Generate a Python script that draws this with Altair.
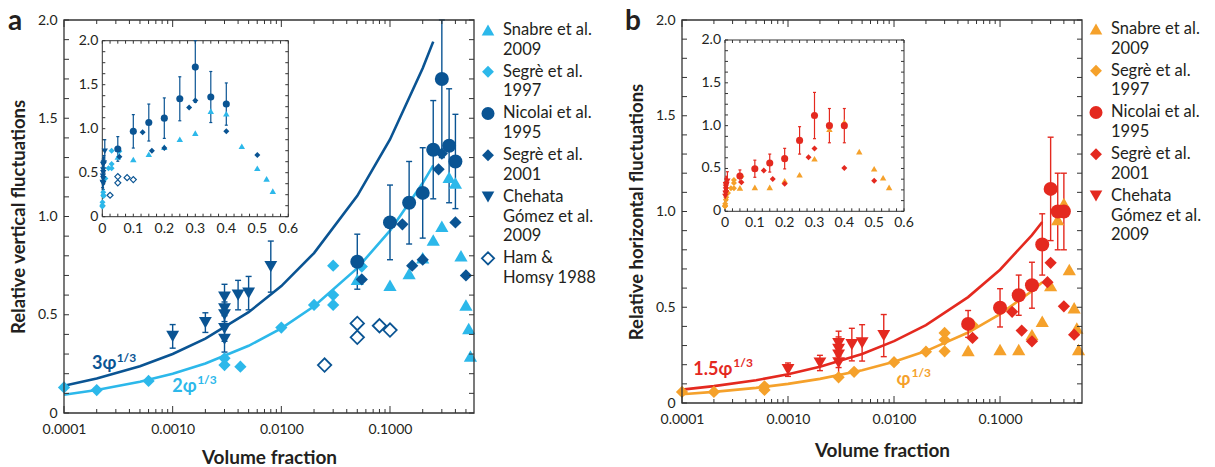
import altair as alt
import pandas as pd

# ---------------- values ----------------
# Snabre et al. 2009 (triangles)
snabre_x = [0.05, 0.10, 0.15, 0.20, 0.25, 0.30, 0.35, 0.40, 0.45, 0.50, 0.53, 0.55]
snabre_va = [0.68, 0.65, 0.71, 0.79, 0.88, 0.95, 1.20, 1.17, 0.80, 0.55, 0.43, 0.29]
snabre_vb = [0.274, 0.279, 0.279, 0.357, 0.427, 0.613, 0.958, 1.042, 0.697, 0.497, 0.392, 0.279]

# Segrè et al. 1997 (light diamonds)
segre97_xa = [0.0001, 0.0002, 0.0006, 0.003, 0.003, 0.0042, 0.01, 0.02, 0.03, 0.03, 0.03, 0.055]
segre97_va = [0.13, 0.117, 0.163, 0.278, 0.244, 0.236, 0.435, 0.55, 0.75, 0.60, 0.55, 0.745]
segre97_xb = [0.0001, 0.0002, 0.0006, 0.0006, 0.003, 0.0042, 0.01, 0.02, 0.03, 0.03, 0.03, 0.055]
segre97_vb = [0.058, 0.058, 0.087, 0.068, 0.134, 0.163, 0.213, 0.268, 0.366, 0.33, 0.27, 0.407]

# Nicolai et al. 1995 (circles with error bars)
nicolai_x = [0.05, 0.10, 0.15, 0.20, 0.25, 0.30, 0.35, 0.40]
nicolai_va = [0.77, 0.97, 1.07, 1.12, 1.34, 1.70, 1.36, 1.28]
nicolai_va_err = [0.14, 0.19, 0.21, 0.23, 0.25, 0.40, 0.29, 0.24]
nicolai_vb = [0.413, 0.497, 0.563, 0.615, 0.828, 1.118, 1.00, 1.00]
nicolai_vb_err = [0.07, 0.10, 0.105, 0.12, 0.16, 0.27, 0.20, 0.20]

# Segrè et al. 2001 (dark diamonds)
segre01_x = [0.055, 0.13, 0.16, 0.20, 0.28, 0.30, 0.40, 0.50]
segre01_va = [0.68, 0.96, 0.75, 0.78, 1.24, 1.32, 0.97, 0.70]
segre01_vb = [0.34, 0.476, 0.378, 0.322, 0.631, 0.732, 0.505, 0.357]

# Chehata Gómez et al. 2009 (down triangles with error bars)
chehata_xa = [0.001, 0.002, 0.003, 0.003, 0.003, 0.003, 0.003, 0.004, 0.005, 0.008]
chehata_va = [0.39, 0.46, 0.59, 0.53, 0.50, 0.43, 0.375, 0.60, 0.61, 0.745]
chehata_va_err = [0.06, 0.05, 0.065, 0.065, 0.065, 0.065, 0.065, 0.075, 0.085, 0.13]
chehata_xb = [0.001, 0.002, 0.003, 0.003, 0.003, 0.003, 0.004, 0.005, 0.008]
chehata_vb = [0.174, 0.209, 0.31, 0.28, 0.25, 0.21, 0.305, 0.314, 0.352]
chehata_vb_err = [0.035, 0.04, 0.065, 0.065, 0.065, 0.065, 0.085, 0.095, 0.11]

# Ham & Homsy 1988 (open diamonds, panel a only)
ham_x = [0.025, 0.05, 0.05, 0.08, 0.10]
ham_va = [0.244, 0.456, 0.385, 0.444, 0.422]

# model curves
curve_x = [0.0001, 0.0002, 0.0005, 0.001, 0.002, 0.005, 0.01, 0.02, 0.05, 0.1, 0.2, 0.25]
curve_3 = [0.139, 0.175, 0.238, 0.300, 0.378, 0.513, 0.646, 0.814, 1.105, 1.392, 1.754, 1.890]
curve_2 = [0.093, 0.117, 0.159, 0.200, 0.252, 0.342, 0.431, 0.543, 0.737, 0.928, 1.170, 1.260]
curve_15 = [0.070, 0.088, 0.119, 0.150, 0.189, 0.256, 0.323, 0.407, 0.553, 0.696, 0.877, 0.945]
curve_1 = [0.046, 0.058, 0.079, 0.100, 0.126, 0.171, 0.215, 0.271, 0.368, 0.464, 0.585, 0.630]

# axis ticks / labels
main_xlabels = [0.0001, 0.001, 0.01, 0.1]
main_xminor = [m * d for d in [0.0001, 0.001, 0.01] for m in range(2, 10)] + [0.2, 0.3, 0.4, 0.5]
main_yticks = [i / 10 for i in range(21)]
main_ylabels = [0, 0.5, 1.0, 1.5, 2.0]
inset_xlabels = [0, 0.1, 0.2, 0.3, 0.4, 0.5, 0.6]
inset_xlabel_text = ["0", "0.1", "0.2", "0.3", "0.4", "0.5", "0.6"]
inset_xticks = [i * 0.025 for i in range(25)]
inset_ylabels = [0, 0.5, 1.0, 1.5, 2.0]
inset_ylabel_text = ["0", "0.5", "1.0", "1.5", "2.0"]
inset_yticks = [i * 0.125 for i in range(17)]

DARK = "#0a5493"
LIGHT = "#2cb8ea"
RED = "#e4291f"
ORANGE = "#f5a12b"
INK = "#231f20"
FRAME = "#333333"
FONT = "Lato, 'Open Sans', sans-serif"
XMAX = 0.593


def sdf(xs, ys, errs=None):
    d = pd.DataFrame({"x": xs, "y": ys})
    if errs is not None:
        d["lo"] = [a - e for a, e in zip(ys, errs)]
        d["hi"] = [a + e for a, e in zip(ys, errs)]
    return d


def point_mark(d, s, size, sw):
    if s.get("open"):
        return alt.Chart(d).mark_point(shape=s["shape"], size=size, filled=False, fill="white",
                                       stroke=s["color"], strokeWidth=sw, opacity=1)
    return alt.Chart(d).mark_point(shape=s["shape"], size=size, filled=True, color=s["color"],
                                   strokeWidth=0, opacity=1)


def build_panel(cfg):
    W, H = cfg["W"], cfg["H"]
    xs = alt.Scale(type="log", domain=[0.0001, XMAX], nice=False)
    ys = alt.Scale(domain=[0, 2], nice=False, zero=False, clamp=True)
    xaxis = alt.Axis(values=main_xlabels, format=".4f", ticks=False, tickSize=0, domain=False, grid=False,
                     labelFontSize=14, labelColor=INK, labelPadding=9, labelFlush=False, labelOverlap=False,
                     title="Volume fraction", titleFontSize=19, titleFontWeight="bold", titleColor=INK,
                     titlePadding=cfg["xtp"])
    yaxis = alt.Axis(values=main_ylabels, labelExpr="datum.value == 0 ? '0' : format(datum.value, '.1f')",
                     ticks=False, tickSize=0, domain=False, grid=False, labelFontSize=14, labelColor=INK,
                     labelPadding=7, labelOverlap=False, title=cfg["ytitle"], titleFontSize=18.5,
                     titleFontWeight="bold", titleColor=INK, titlePadding=9)

    def X(f="x"):
        return alt.X(f + ":Q", scale=xs, axis=xaxis)

    def Y(f="y"):
        return alt.Y(f + ":Q", scale=ys, axis=yaxis)

    main = []
    # curves
    for cy, col in cfg["curves"]:
        main.append(alt.Chart(pd.DataFrame({"x": curve_x, "y": cy})).mark_line(
            color=col, strokeWidth=2.6).encode(x=X(), y=Y()))
    # error bars
    for s in cfg["series"]:
        if s.get("err") is None:
            continue
        d = sdf(s["x"], s["y"], s["err"])
        main.append(alt.Chart(d).mark_rule(color=s["ecolor"], strokeWidth=1.4).encode(
            x=X(), y=Y("lo"), y2=alt.Y2("hi:Q")))
        for f in ["lo", "hi"]:
            main.append(alt.Chart(d).mark_tick(color=s["ecolor"], orient="horizontal", size=6,
                                               thickness=1.4, opacity=1).encode(x=X(), y=Y(f)))
    # points
    for s in cfg["series"]:
        main.append(point_mark(sdf(s["x"], s["y"]), s, s["size"], 1.8).encode(x=X(), y=Y()))
    # annotations
    for a in cfg["ann"]:
        d = pd.DataFrame({"x": [a["x"]], "y": [a["y"]], "t": [a["t"]]})
        main.append(alt.Chart(d).mark_text(align="left", baseline="middle", color=a["color"],
                                           fontSize=a["fs"], fontWeight="bold").encode(
            x=X(), y=Y(), text="t:N"))
    # frame + inward ticks
    main.append(alt.Chart(pd.DataFrame({"f": [0]})).mark_rect(
        fill=None, fillOpacity=0, stroke=FRAME, strokeWidth=1.3).encode(
        x=alt.value(0), x2=alt.value(W), y=alt.value(0), y2=alt.value(H)))
    ydf = pd.DataFrame({"y": main_yticks})
    main.append(alt.Chart(ydf).mark_rule(color=FRAME, strokeWidth=1).encode(
        y=Y(), x=alt.value(0), x2=alt.value(5)))
    main.append(alt.Chart(ydf).mark_rule(color=FRAME, strokeWidth=1).encode(
        y=Y(), x=alt.value(W - 5), x2=alt.value(W)))
    for vals, ln in [(main_xlabels, 7), (main_xminor, 4)]:
        xdf = pd.DataFrame({"x": vals})
        main.append(alt.Chart(xdf).mark_rule(color=FRAME, strokeWidth=1).encode(
            x=X(), y=alt.value(H), y2=alt.value(H - ln)))
        main.append(alt.Chart(xdf).mark_rule(color=FRAME, strokeWidth=1).encode(
            x=X(), y=alt.value(0), y2=alt.value(ln)))
    # panel letter
    main.append(alt.Chart(pd.DataFrame({"t": [cfg["letter"]]})).mark_text(
        align="left", baseline="top", fontSize=28, fontWeight="bold", color=INK).encode(
        x=alt.value(cfg["letter_x"]), y=alt.value(-12), text="t:N"))

    main_layer = alt.layer(*main)

    # ---------------- inset ----------------
    L, R, T, B = cfg["inset"]
    ixs = alt.Scale(domain=[0, 0.6], range=[L, R], nice=False, zero=False)
    iys = alt.Scale(domain=[0, 2], range=[B, T], nice=False, zero=False, clamp=True)

    def IX(f="x"):
        return alt.X(f + ":Q", scale=ixs, axis=None)

    def IY(f="y"):
        return alt.Y(f + ":Q", scale=iys, axis=None)

    ins = []
    fr = pd.DataFrame({"x0": [0], "x1": [0.6], "y0": [0], "y1": [2]})
    ins.append(alt.Chart(fr).mark_rect(fill="white", stroke=FRAME, strokeWidth=1).encode(
        x=IX("x0"), x2=alt.X2("x1:Q"), y=IY("y0"), y2=alt.Y2("y1:Q")))
    iyd = pd.DataFrame({"y": inset_yticks})
    ins.append(alt.Chart(iyd).mark_rule(color=FRAME, strokeWidth=1).encode(
        y=IY(), x=alt.value(L), x2=alt.value(L + 3)))
    ins.append(alt.Chart(iyd).mark_rule(color=FRAME, strokeWidth=1).encode(
        y=IY(), x=alt.value(R - 3), x2=alt.value(R)))
    ixd = pd.DataFrame({"x": inset_xticks})
    ins.append(alt.Chart(ixd).mark_rule(color=FRAME, strokeWidth=1).encode(
        x=IX(), y=alt.value(B), y2=alt.value(B - 3)))
    ins.append(alt.Chart(ixd).mark_rule(color=FRAME, strokeWidth=1).encode(
        x=IX(), y=alt.value(T), y2=alt.value(T + 3)))
    ins.append(alt.Chart(pd.DataFrame({"y": inset_ylabels, "t": inset_ylabel_text})).mark_text(
        align="right", baseline="middle", fontSize=14, color=INK).encode(
        y=IY(), x=alt.value(L - 4), text="t:N"))
    ins.append(alt.Chart(pd.DataFrame({"x": inset_xlabels, "t": inset_xlabel_text})).mark_text(
        align="center", baseline="top", fontSize=14, color=INK).encode(
        x=IX(), y=alt.value(B + 5), text="t:N"))
    for s in cfg["series"]:
        if s.get("err") is None:
            continue
        d = sdf(s["x"], s["y"], s["err"])
        ins.append(alt.Chart(d).mark_rule(color=s["ecolor"], strokeWidth=1.2).encode(
            x=IX(), y=IY("lo"), y2=alt.Y2("hi:Q")))
        for f in ["lo", "hi"]:
            ins.append(alt.Chart(d).mark_tick(color=s["ecolor"], orient="horizontal", size=3,
                                              thickness=1.2, opacity=1).encode(x=IX(), y=IY(f)))
    for s in cfg["series"]:
        ins.append(point_mark(sdf(s["x"], s["y"]), s, s["isize"], 1.2).encode(x=IX(), y=IY()))
    inset_layer = alt.layer(*ins)

    # ---------------- legend ----------------
    lys = alt.Scale(domain=[0, 14], range=[cfg["leg_y0"], cfg["leg_y0"] + 14 * 19.6], nice=False, zero=False)
    rows_t, rows_p = [], []
    leg = []
    line = 0
    for k, s in enumerate(cfg["series"]):
        first = line + 0.13 * k
        for txt in s["legend"]:
            rows_t.append(txt)
            rows_p.append(line + 0.13 * k)
            line += 1
        leg.append(point_mark(pd.DataFrame({"pos": [first]}), s, s["lsize"], 1.8).encode(
            x=alt.value(W + cfg["leg_dx"]), y=alt.Y("pos:Q", scale=lys, axis=None)))
    leg.append(alt.Chart(pd.DataFrame({"pos": rows_p, "t": rows_t})).mark_text(
        align="left", baseline="middle", fontSize=16.5, color=INK).encode(
        x=alt.value(W + cfg["leg_dx"] + 15), y=alt.Y("pos:Q", scale=lys, axis=None), text="t:N"))
    legend_layer = alt.layer(*leg)

    return alt.layer(main_layer, inset_layer, legend_layer).resolve_scale(
        x="independent", y="independent").properties(width=W, height=H)


cfg_a = dict(
    W=410, H=393, letter="a", letter_x=-56, ytitle="Relative vertical fluctuations", xtp=12,
    curves=[(curve_3, DARK), (curve_2, LIGHT)],
    inset=(38.3, 224.3, 20.7, 196.7), leg_y0=10, leg_dx=14,
    series=[
        dict(x=snabre_x, y=snabre_va, shape="triangle-up", color=LIGHT, size=175, isize=42, lsize=160,
             legend=["Snabre et al.", "2009"]),
        dict(x=segre97_xa, y=segre97_va, shape="diamond", color=LIGHT, size=150, isize=36, lsize=140,
             legend=["Segrè et al.", "1997"]),
        dict(x=nicolai_x, y=nicolai_va, err=nicolai_va_err, ecolor=DARK, shape="circle", color=DARK,
             size=196, isize=50, lsize=170, legend=["Nicolai et al.", "1995"]),
        dict(x=segre01_x, y=segre01_va, shape="diamond", color=DARK, size=150, isize=36, lsize=140,
             legend=["Segrè et al.", "2001"]),
        dict(x=chehata_xa, y=chehata_va, err=chehata_va_err, ecolor=DARK, shape="triangle-down",
             color=DARK, size=165, isize=40, lsize=160, legend=["Chehata", "Gómez et al.", "2009"]),
        dict(x=ham_x, y=ham_va, shape="diamond", color=DARK, size=180, isize=36, lsize=150, open=True,
             legend=["Ham &", "Homsy 1988"]),
    ],
    ann=[
        dict(x=0.000181, y=0.249, t="3φ", color=DARK, fs=18),
        dict(x=0.000305, y=0.28, t="1/3", color=DARK, fs=12),
        dict(x=0.00099, y=0.134, t="2φ", color=LIGHT, fs=18),
        dict(x=0.00168, y=0.166, t="1/3", color=LIGHT, fs=12),
    ],
)

cfg_b = dict(
    W=400, H=383, letter="b", letter_x=-57, ytitle="Relative horizontal fluctuations", xtp=15,
    curves=[(curve_15, RED), (curve_1, ORANGE)],
    inset=(43, 222, 20, 191.3), leg_y0=9, leg_dx=14,
    series=[
        dict(x=snabre_x, y=snabre_vb, shape="triangle-up", color=ORANGE, size=175, isize=42, lsize=160,
             legend=["Snabre et al.", "2009"]),
        dict(x=segre97_xb, y=segre97_vb, shape="diamond", color=ORANGE, size=150, isize=36, lsize=140,
             legend=["Segrè et al.", "1997"]),
        dict(x=nicolai_x, y=nicolai_vb, err=nicolai_vb_err, ecolor=RED, shape="circle", color=RED,
             size=196, isize=50, lsize=170, legend=["Nicolai et al.", "1995"]),
        dict(x=segre01_x, y=segre01_vb, shape="diamond", color=RED, size=150, isize=36, lsize=140,
             legend=["Segrè et al.", "2001"]),
        dict(x=chehata_xb, y=chehata_vb, err=chehata_vb_err, ecolor=RED, shape="triangle-down",
             color=RED, size=165, isize=40, lsize=160, legend=["Chehata", "Gómez et al.", "2009"]),
    ],
    ann=[
        dict(x=0.000128, y=0.174, t="1.5φ", color=RED, fs=18),
        dict(x=0.000305, y=0.207, t="1/3", color=RED, fs=12),
        dict(x=0.01055, y=0.122, t="φ", color=ORANGE, fs=18),
        dict(x=0.0146, y=0.159, t="1/3", color=ORANGE, fs=12),
    ],
)

panel_a = build_panel(cfg_a)
panel_b = build_panel(cfg_b)

chart = alt.hconcat(panel_a, panel_b, spacing=28).properties(padding=0).configure(
    font=FONT).configure_view(stroke=None)

chart.save("out.html", embed_options={"renderer": "svg", "actions": False})
